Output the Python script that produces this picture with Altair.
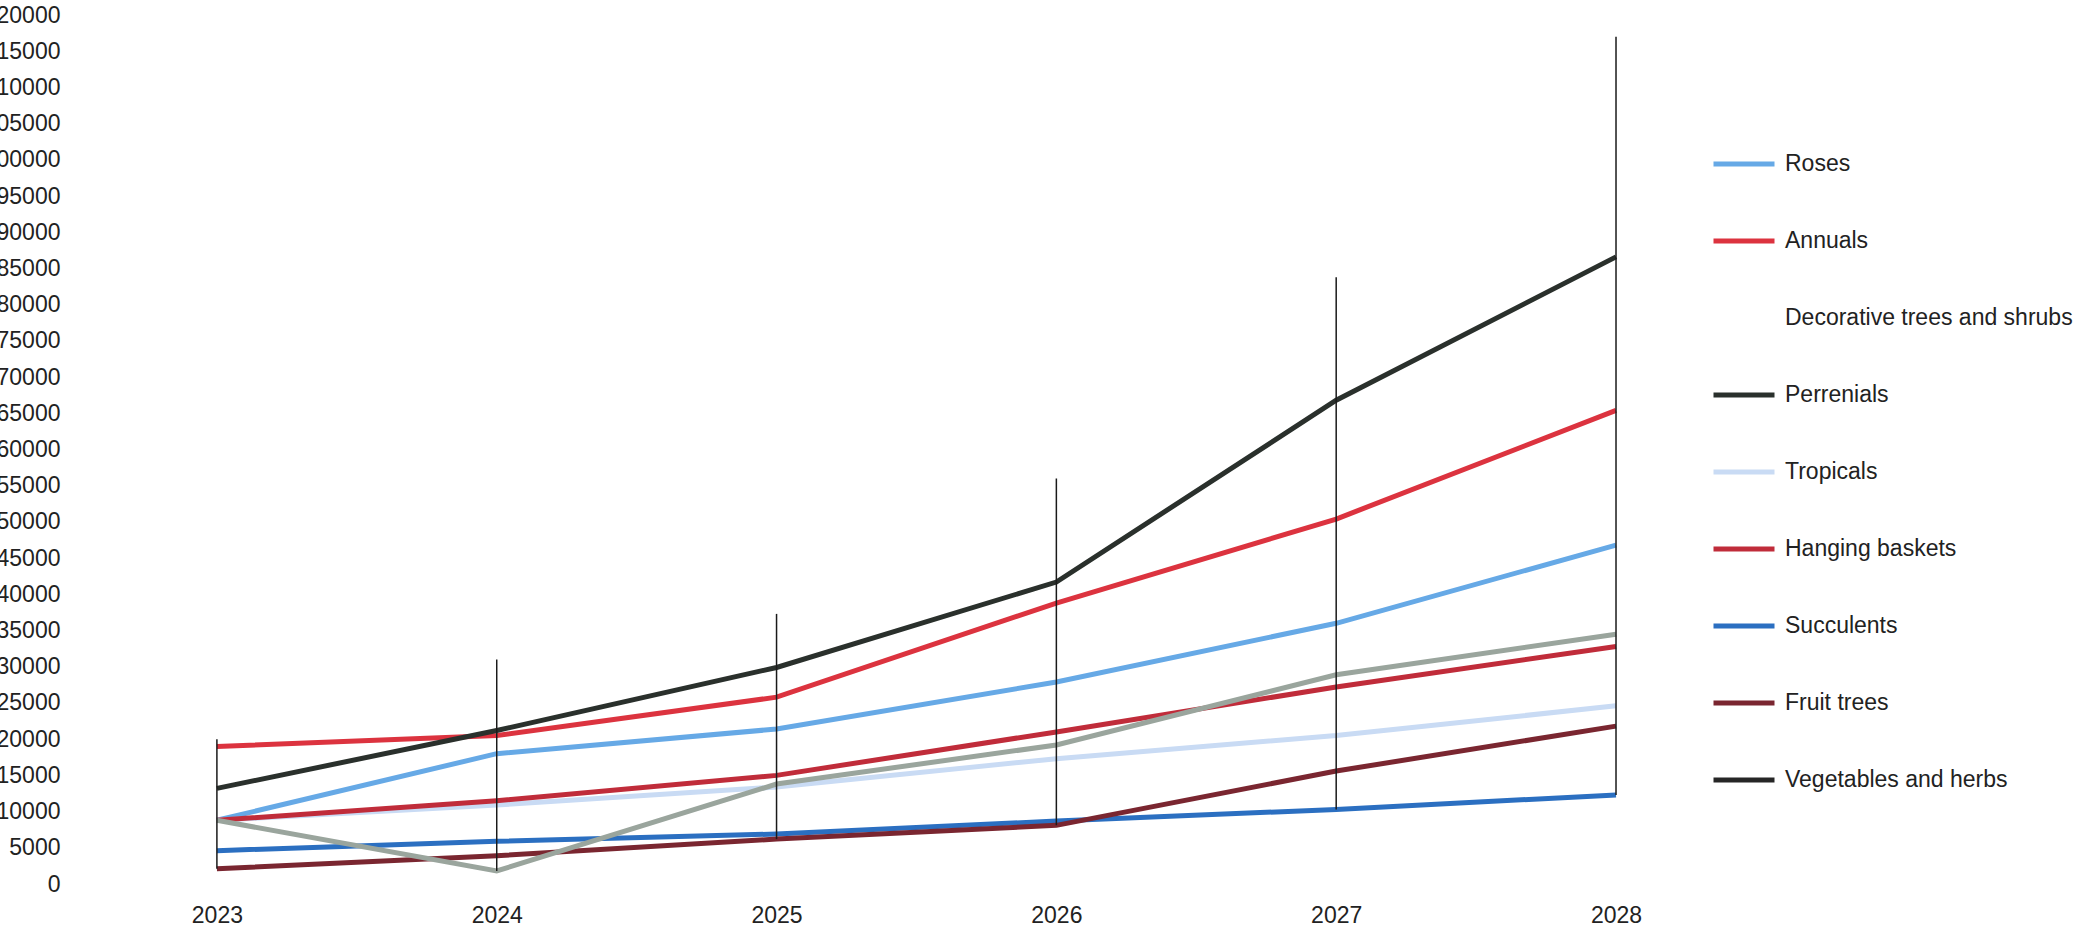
import altair as alt
import pandas as pd

# Forecast sales by plant category, 2023-2028
years = [2023, 2024, 2025, 2026, 2027, 2028]

series_names = [
    "Roses",
    "Annuals",
    "Decorative trees and shrubs",
    "Perrenials",
    "Tropicals",
    "Hanging baskets",
    "Succulents",
    "Fruit trees",
    "Vegetables and herbs",
]

roses = [8800, 18000, 21400, 27900, 36000, 46800]
annuals = [19000, 20500, 25800, 38800, 50400, 65400]
decorative = [20000, 31000, 37300, 56000, 83800, 117000]
perrenials = [13200, 21200, 29900, 41700, 66800, 86600]
tropicals = [8800, 10900, 13400, 17300, 20500, 24600]
hanging_baskets = [8800, 11500, 15000, 21000, 27200, 32800]
succulents = [4600, 5900, 6900, 8700, 10300, 12300]
fruit_trees = [2100, 3900, 6200, 8100, 15600, 21800]
vegetables = [8800, 1800, 13800, 19200, 28900, 34500]

series_values = [
    roses, annuals, decorative, perrenials, tropicals,
    hanging_baskets, succulents, fruit_trees, vegetables,
]

# Legend swatch colours
series_colors = [
    "#66a9e6",      # Roses
    "#dc333f",      # Annuals
    "transparent",  # Decorative trees and shrubs
    "#2a302c",      # Perrenials
    "#c9dbf4",      # Tropicals
    "#c02c3a",      # Hanging baskets
    "#2b6fc1",      # Succulents
    "#7a2630",      # Fruit trees
    "#262626",      # Vegetables and herbs
]
# The vegetables line itself is drawn in a grey-green
vegetables_line_color = "#9aa59d"

y_ticks = list(range(0, 120001, 5000))

rows = []
for i, (name, vals) in enumerate(zip(series_names, series_values)):
    for yr, v in zip(years, vals):
        rows.append({"year": yr, "series": name, "value": v, "order": i})
df = pd.DataFrame(rows)

FONT = "Liberation Sans"

x_scale = alt.Scale(domain=[2022.45, 2028.05], nice=False, zero=False)
y_scale = alt.Scale(domain=[0, 120000], nice=False)

x_axis = alt.Axis(
    values=years, format="d", title=None, grid=False, domain=False,
    ticks=False, labelFontSize=23, labelColor="#222222",
    labelPadding=20, labelFont=FONT, labelFlush=False,
)
y_axis = alt.Axis(
    values=y_ticks, format="d", title=None, grid=False, domain=False,
    ticks=False, labelFontSize=23, labelColor="#222222",
    labelPadding=3, labelFont=FONT, labelOverlap=False,
)

color_enc = alt.Color(
    "series:N",
    scale=alt.Scale(domain=series_names, range=series_colors),
    sort=series_names,
    legend=alt.Legend(
        title=None,
        orient="none",
        legendX=1648,
        legendY=116,
        symbolType="stroke",
        symbolSize=3721,
        symbolStrokeWidth=5,
        labelFontSize=23,
        labelFont=FONT,
        labelColor="#222222",
        labelOffset=8,
        rowPadding=32,
        labelLimit=400,
    ),
)

lines = alt.Chart(df).mark_line(strokeWidth=5).encode(
    x=alt.X("year:Q", scale=x_scale, axis=x_axis),
    y=alt.Y("value:Q", scale=y_scale, axis=y_axis),
    color=alt.when(alt.datum.series == "Vegetables and herbs")
    .then(alt.value(vegetables_line_color))
    .otherwise(color_enc),
    order=alt.Order("order:Q"),
)

# High-low lines spanning every series at each year
hilo = alt.Chart(df).transform_aggregate(
    lo="min(value)", hi="max(value)", groupby=["year"]
).mark_rule(color="#1a1a1a", strokeWidth=1.5).encode(
    x=alt.X("year:Q", scale=x_scale, axis=x_axis),
    y=alt.Y("lo:Q", scale=y_scale, axis=y_axis),
    y2="hi:Q",
)

chart = alt.layer(lines, hilo).properties(
    width=1567,
    height=869,
    autosize=alt.AutoSizeParams(type="none"),
    padding={"left": 63, "top": 15, "right": 450, "bottom": 42},
    background="white",
).configure_view(stroke=None)

chart.save("out.html", embed_options={"renderer": "svg", "actions": False})
